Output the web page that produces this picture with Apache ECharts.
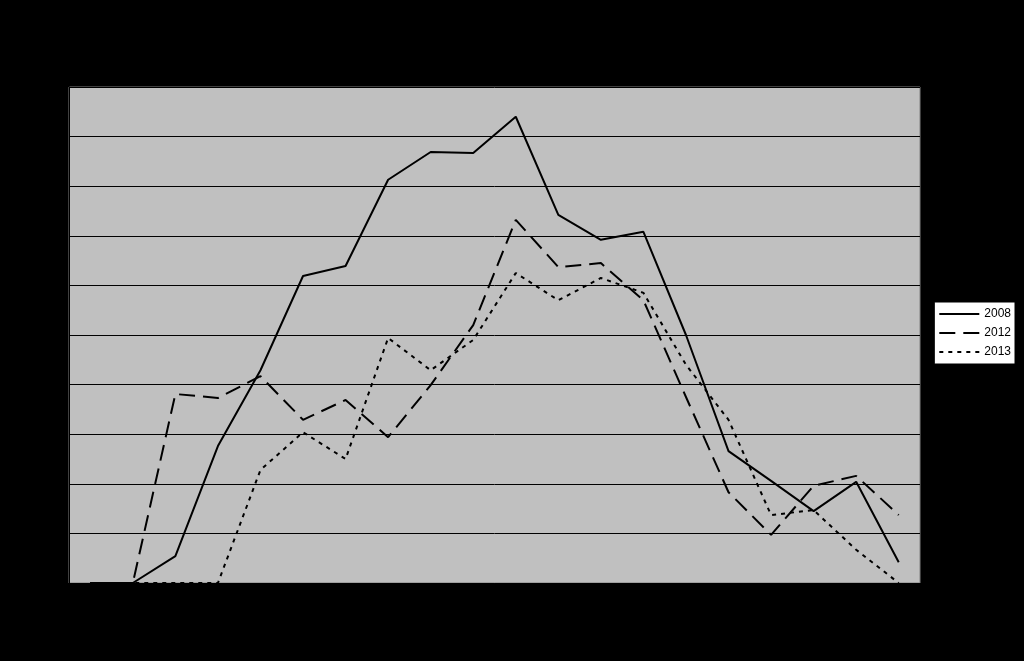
<!DOCTYPE html><html><head><meta charset="utf-8">
<script src="https://cdn.jsdelivr.net/npm/echarts@6/dist/echarts.min.js"></script>
<style>html,body{margin:0;background:#000}#c{width:1024px;height:661px}</style></head><body><div id="c"></div><script>
var categories=['1','2','3','4','5','6','7','8','9','10','11','12','13','14','15','16','17','18','19','20'];
var s2008=[0,0,5.4,27.6,42.9,61.9,63.9,81.3,86.9,86.7,94,74.2,69.2,70.8,50,26.6,20.6,14.5,20.4,4.2];
var s2012=[0,0,38.1,37.3,41.7,32.9,36.9,29.4,39.9,52,73.2,63.7,64.5,57,37.5,18.3,9.7,19.6,21.6,13.7];
var s2013=[0,0,0,0,22.8,30.4,25,49.4,42.9,49,62.5,57,61.5,58.5,44,32.9,13.7,14.7,6.7,0];
var c=echarts.init(document.getElementById('c'));
function s(n,d,t){return {name:n,type:'line',data:d,symbol:'none',itemStyle:{color:'#000'},lineStyle:{color:'#000',width:2,type:t}};}
c.setOption({backgroundColor:'#000',animation:false,
legend:{right:9,top:302,orient:'vertical',backgroundColor:'#fff',borderColor:'#000',borderWidth:1,padding:[6,4],itemGap:7,itemWidth:40,itemHeight:10,itemStyle:{opacity:0},textStyle:{color:'#000',fontSize:12},data:['2008','2012','2013']},
grid:{left:69,right:104,top:87,bottom:78,show:true,backgroundColor:'#c0c0c0',borderColor:'#808080'},
xAxis:{type:'category',data:categories,boundaryGap:true,axisLabel:{color:'#000'},axisLine:{lineStyle:{color:'#000'}},axisTick:{show:false}},
yAxis:{type:'value',min:0,max:100,interval:10,axisLabel:{color:'#000'},axisLine:{show:true,lineStyle:{color:'#000'}},splitLine:{lineStyle:{color:'#000',width:1}}},
series:[s('2008',s2008,'solid'),s('2012',s2012,[16,8]),s('2013',s2013,[4,5])]});
</script></body></html>
